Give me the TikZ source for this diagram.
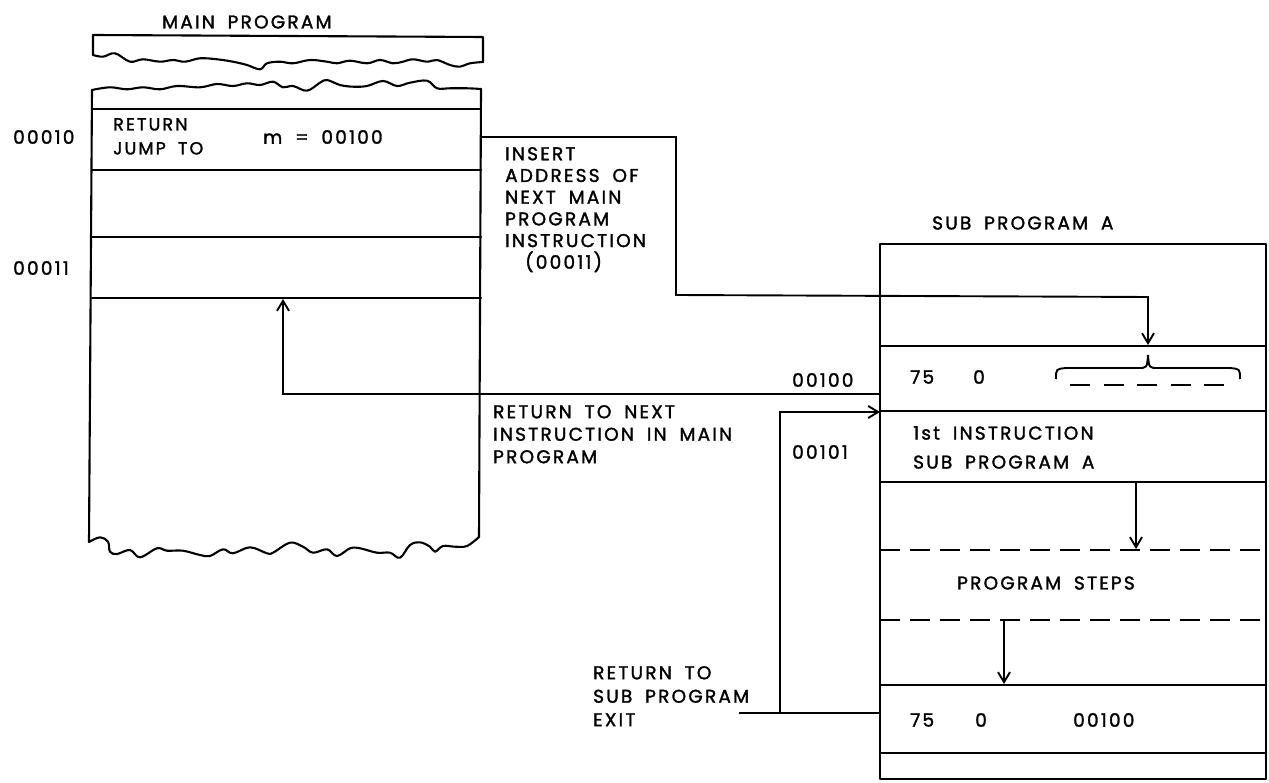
\documentclass[tikz,border=0pt]{standalone}
\usepackage{fontspec}
\setmainfont{Poppins}[LetterSpace=12,WordSpace=1.8,FakeBold=1.6]
\usetikzlibrary{arrows.meta}
\tikzset{
  lbl/.style={font=\fontsize{18.5}{21.7}\selectfont, inner sep=0pt, anchor=west},
  blk/.style={font=\fontsize{18.5}{21.7}\selectfont, inner sep=0pt, anchor=north west, align=left},
  boxline/.style={line width=2.1pt, line join=round, line cap=round},
  conn/.style={line width=1.9pt, line join=miter},
  arr/.style={conn, -{Straight Barb[length=10pt,width=12pt,line width=1.9pt]}},
  dashline/.style={line width=2.1pt, dash pattern=on 20pt off 10pt}
}
\begin{document}
\begin{tikzpicture}[x=1pt,y=-1pt]
\useasboundingbox[fill=white] (0,0) rectangle (1269,783);

% ---------- MAIN PROGRAM ----------
\node[lbl] (mainlbl) at (162,22) {MAIN PROGRAM};
% top torn strip
\draw[boxline] (93,55) -- (93,35) -- (483,37) -- (483,62);
\draw[boxline] plot[smooth, tension=0.6] coordinates {
 (93,55) (103,56.7) (115,53.3) (130,61.7) (143,59.3) (160,61.7) (173,60) (185,61.7)
 (200,58.3) (217,59.3) (233,61.7) (247,65) (260,69.3) (267,63.3) (280,61.7) (293,63.3)
 (310,60) (327,61.7) (337,63.3) (350,60.7) (367,63.3) (380,60) (393,63.3) (403,61.7)
 (413,59.3) (427,61.7) (437,60) (450,65) (460,66.7) (470,63.3) (483,62)};
% second strip top wave
\draw[boxline] plot[smooth, tension=0.6] coordinates {
 (92,90) (110,87.3) (127,89.3) (143,87.3) (160,89.3) (177,86) (200,87.3) (217,84)
 (233,86) (247,83.3) (260,85) (273,81.7) (283,87.3) (293,86) (307,90.7) (320,82.7)
 (327,80) (340,85) (353,86.7) (367,86) (383,81) (397,86) (410,82.7) (427,80.7)
 (437,88.3) (450,88.3) (467,88.3) (481,89)};
% sides
\draw[boxline] (92,90) -- (89,542);
\draw[boxline] (481,89) -- (479,537);
% bottom wave
\draw[boxline] plot[smooth, tension=0.6] coordinates {
 (89,542) (100,537.3) (108,541.7) (110,551.7) (117,554) (130,550) (140,557.3) (157,548.3)
 (167,550.7) (183,550.7) (200,555) (210,556) (223,549.3) (233,553.3) (250,547.3)
 (267,553.3) (273,552.7) (290,542.7) (303,546.7) (313,552.7) (327,549.3) (337,556)
 (350,548.3) (360,548.3) (377,552.7) (390,552.7) (400,557.7) (410,545) (420,542.3)
 (430,546.7) (435,551.7) (443,546) (455,546.7) (467,546) (479,537)};
% rows
\foreach \yy in {109,170,237,298} \draw[boxline] (92,\yy) -- (481,\yy);

\node[lbl] (a00010) at (13,137) {00010};
\node[blk, font=\fontsize{17.5}{24}\selectfont] (retjump) at (113,118) {RETURN\\JUMP TO};
\node[lbl] (mval) at (263,137) {m = 00100};
\node[lbl] (a00011) at (13,268) {00011};

% ---------- SUB PROGRAM A ----------
\node[lbl] (sublbl) at (932,223) {SUB PROGRAM A};
\draw[boxline] (880,244) rectangle (1266,779);
\foreach \yy in {346,411,482,685,753} \draw[boxline] (880,\yy) -- (1266,\yy);
\draw[dashline] (880,550) -- (1266,550);
\draw[dashline] (880,620) -- (1266,620);

\node[lbl] (s75a) at (910,377) {75};
\node[lbl] (s0a) at (973,377) {0};
\draw[line width=1.9pt] (1056,379) .. controls (1056,369) .. (1066,368) -- (1138,368)
  .. controls (1147,368) .. (1148,355) .. controls (1149,368) .. (1158,368) -- (1230,368)
  .. controls (1240,369) .. (1240,379);
\draw[line width=2.1pt, dash pattern=on 20pt off 13.5pt] (1070,385) -- (1224,385);

\node[blk, font=\fontsize{18.5}{29}\selectfont] (first) at (913,426) {1st INSTRUCTION\\SUB PROGRAM A};
\node[lbl] (steps) at (957,583) {PROGRAM STEPS};
\node[lbl] (s75b) at (910,720) {75};
\node[lbl] (s0b) at (975,720) {0};
\node[lbl] (s100b) at (1073,720) {00100};

\node[lbl] (a00100) at (792,380) {00100};
\node[lbl] (a00101) at (792,452) {00101};

% ---------- connectors ----------
\coordinate (ins0) at (481,137);
\coordinate (ins1) at (676,137);
\coordinate (ins2) at (676,295);
\coordinate (ins3) at (1148,297);
\coordinate (ins4) at (1148,345);
\draw[arr] (ins0) -- (ins1) -- (ins2) -- (ins3) -- (ins4);
\node[blk] (insert) at (505,147) {INSERT\\ADDRESS OF\\NEXT MAIN\\PROGRAM\\INSTRUCTION\\\hspace{20pt}(00011)};

\coordinate (r0) at (880,394);
\coordinate (r1) at (283,394);
\coordinate (r2) at (283,299);
\draw[arr] (r0) -- (r1) -- (r2);
\node[blk, font=\fontsize{18.5}{22.5}\selectfont] (retnext) at (493,405) {RETURN TO NEXT\\INSTRUCTION IN MAIN\\PROGRAM};

\coordinate (e0) at (739,713);
\coordinate (e1) at (780,713);
\coordinate (e2) at (880,713);
\coordinate (e3) at (780,412);
\coordinate (e4) at (880,412);
\draw[conn] (e0) -- (e2);
\draw[arr] (e1) -- (e3) -- (e4);
\node[blk, font=\fontsize{18.5}{23.5}\selectfont] (retsub) at (593,666) {RETURN TO\\SUB PROGRAM\\EXIT};

\coordinate (p0) at (1136,482);
\coordinate (p1) at (1136,549);
\draw[arr] (p0) -- (p1);
\coordinate (q0) at (1004,620);
\coordinate (q1) at (1004,684);
\draw[arr] (q0) -- (q1);
\end{tikzpicture}
\end{document}
